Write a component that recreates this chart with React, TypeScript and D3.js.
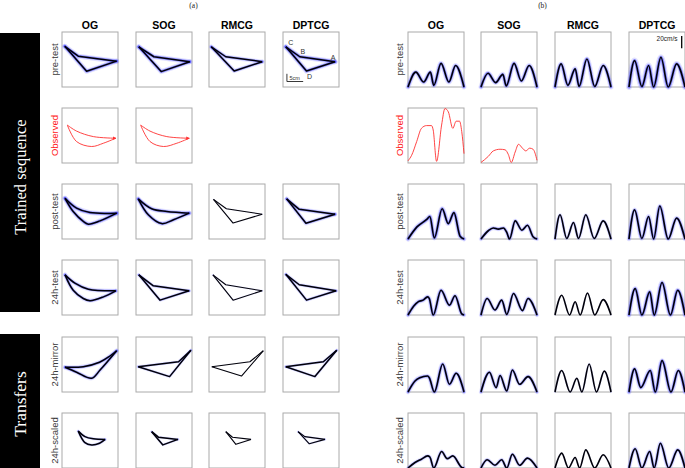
import React from "react";
import * as d3 from "d3";

type P = [number, number];
interface Traj { curved: boolean; upper: P[]; lower: P[] }

const groups = ["OG", "SOG", "RMCG", "DPTCG"];
const rowLabels = ["pre-test", "Observed", "post-test", "24h-test", "24h-mirror", "24h-scaled"];
const panelLabels = ["(a)", "(b)"];
const blockLabels = ["Trained sequence", "Transfers"];
const cornerLabels = ["A", "B", "C", "D"];
const scaleLabelA = "5cm";
const scaleLabelB = "20cm/s";
const velScaleCmS = 20;
const velMaxCmS = 90;

// ---- panel (a): hand trajectories (normalised box coords, y up) ----
const trajPre: Traj[] = [
  { curved: false, upper: [[0.05, 0.74], [0.29, 0.56], [0.975, 0.47]], lower: [[0.05, 0.74], [0.44, 0.285], [0.975, 0.47]] },
  { curved: false, upper: [[0.05, 0.73], [0.32, 0.55], [0.96, 0.46]], lower: [[0.05, 0.73], [0.45, 0.28], [0.96, 0.46]] },
  { curved: false, upper: [[0.04, 0.73], [0.30, 0.55], [0.95, 0.46]], lower: [[0.04, 0.73], [0.45, 0.29], [0.95, 0.46]] },
  { curved: false, upper: [[0.05, 0.73], [0.30, 0.55], [0.93, 0.46]], lower: [[0.05, 0.73], [0.42, 0.29], [0.93, 0.46]] },
];
const trajObserved: Traj[] = [
  { curved: true, upper: [[0.095, 0.69], [0.26, 0.58], [0.56, 0.48], [0.96, 0.45]], lower: [[0.095, 0.69], [0.26, 0.39], [0.53, 0.30], [0.74, 0.36], [0.96, 0.45]] },
  { curved: true, upper: [[0.083, 0.69], [0.25, 0.58], [0.55, 0.48], [0.95, 0.45]], lower: [[0.083, 0.69], [0.25, 0.39], [0.49, 0.30], [0.73, 0.36], [0.95, 0.45]] },
];
const trajPost: Traj[] = [
  { curved: true, upper: [[0.054, 0.74], [0.26, 0.56], [0.5, 0.48], [0.976, 0.47]], lower: [[0.054, 0.74], [0.2, 0.5], [0.38, 0.32], [0.47, 0.27], [0.68, 0.33], [0.976, 0.47]] },
  { curved: true, upper: [[0.04, 0.73], [0.28, 0.55], [0.55, 0.5], [0.95, 0.47]], lower: [[0.04, 0.73], [0.22, 0.44], [0.46, 0.28], [0.67, 0.35], [0.95, 0.47]] },
  { curved: false, upper: [[0.08, 0.72], [0.31, 0.55], [0.95, 0.45]], lower: [[0.08, 0.72], [0.43, 0.29], [0.95, 0.45]] },
  { curved: false, upper: [[0.065, 0.73], [0.29, 0.54], [0.93, 0.45]], lower: [[0.065, 0.73], [0.41, 0.285], [0.93, 0.45]] },
];
const traj24h: Traj[] = [
  { curved: true, upper: [[0.054, 0.73], [0.23, 0.58], [0.47, 0.47], [0.96, 0.44]], lower: [[0.054, 0.73], [0.2, 0.45], [0.38, 0.30], [0.5, 0.26], [0.74, 0.33], [0.96, 0.44]] },
  { curved: false, upper: [[0.05, 0.73], [0.31, 0.53], [0.95, 0.44]], lower: [[0.05, 0.73], [0.43, 0.27], [0.95, 0.44]] },
  { curved: false, upper: [[0.07, 0.73], [0.30, 0.55], [0.95, 0.44]], lower: [[0.07, 0.73], [0.43, 0.27], [0.95, 0.44]] },
  { curved: false, upper: [[0.05, 0.74], [0.29, 0.55], [0.95, 0.44]], lower: [[0.05, 0.74], [0.42, 0.27], [0.95, 0.44]] },
];
const trajMirror: Traj[] = [
  { curved: true, upper: [[0.054, 0.45], [0.38, 0.46], [0.67, 0.54], [0.85, 0.65], [0.976, 0.75]], lower: [[0.054, 0.45], [0.26, 0.36], [0.53, 0.25], [0.68, 0.40], [0.976, 0.75]] },
  { curved: false, upper: [[0.04, 0.46], [0.76, 0.55], [0.98, 0.76]], lower: [[0.04, 0.46], [0.6, 0.28], [0.98, 0.76]] },
  { curved: false, upper: [[0.05, 0.46], [0.73, 0.55], [0.97, 0.75]], lower: [[0.05, 0.46], [0.58, 0.29], [0.97, 0.75]] },
  { curved: false, upper: [[0.05, 0.46], [0.72, 0.55], [0.96, 0.76]], lower: [[0.05, 0.46], [0.57, 0.28], [0.96, 0.76]] },
];
const trajScaled: Traj[] = [
  { curved: true, upper: [[0.29, 0.67], [0.41, 0.57], [0.56, 0.53], [0.77, 0.52]], lower: [[0.29, 0.67], [0.41, 0.46], [0.53, 0.42], [0.67, 0.45], [0.77, 0.52]] },
  { curved: false, upper: [[0.28, 0.66], [0.40, 0.56], [0.75, 0.52]], lower: [[0.28, 0.66], [0.48, 0.42], [0.75, 0.52]] },
  { curved: false, upper: [[0.30, 0.66], [0.42, 0.56], [0.75, 0.52]], lower: [[0.30, 0.66], [0.48, 0.43], [0.75, 0.52]] },
  { curved: false, upper: [[0.27, 0.66], [0.39, 0.57], [0.75, 0.52]], lower: [[0.27, 0.66], [0.47, 0.44], [0.75, 0.52]] },
];
const trajRows: Traj[][] = [trajPre, trajObserved, trajPost, traj24h, trajMirror, trajScaled];

// ---- panel (b): velocity profiles (t normalised, v as fraction of box height) ----
const velPre: P[][] = [
  [[0, 0], [0.14, 0.27], [0.28, 0.09], [0.40, 0.27], [0.46, 0.03], [0.59, 0.43], [0.73, 0.09], [0.85, 0.39], [1, 0]],
  [[0, 0], [0.125, 0.25], [0.26, 0.08], [0.39, 0.23], [0.45, 0.02], [0.59, 0.43], [0.72, 0.11], [0.86, 0.39], [1, 0]],
  [[0, 0], [0.11, 0.42], [0.23, 0.03], [0.36, 0.33], [0.43, 0.01], [0.57, 0.51], [0.71, 0.01], [0.86, 0.39], [1, 0]],
  [[0, 0], [0.10, 0.48], [0.23, 0.01], [0.35, 0.39], [0.44, 0], [0.57, 0.54], [0.70, 0], [0.85, 0.42], [1, 0]],
];
const velObserved: P[][] = [
  [[0, 0.04], [0.065, 0.14], [0.155, 0.39], [0.24, 0.63], [0.33, 0.68], [0.42, 0.68], [0.45, 0.6], [0.51, 0.03], [0.6, 0.69], [0.66, 0.99], [0.72, 0.93], [0.8, 0.63], [0.86, 0.76], [0.92, 0.76], [0.96, 0.57], [1, 0.17]],
  [[0, 0.01], [0.13, 0.12], [0.22, 0.22], [0.34, 0.25], [0.43, 0.24], [0.49, 0.15], [0.54, 0.01], [0.61, 0.2], [0.67, 0.34], [0.74, 0.27], [0.80, 0.22], [0.87, 0.27], [0.93, 0.25], [1, 0.05]],
];
const velPost: P[][] = [
  [[0, 0], [0.16, 0.22], [0.34, 0.36], [0.39, 0.41], [0.47, 0.02], [0.61, 0.55], [0.72, 0.28], [0.82, 0.48], [0.93, 0.05], [1, 0]],
  [[0, 0], [0.13, 0.15], [0.22, 0.2], [0.31, 0.18], [0.4, 0.2], [0.46, 0.12], [0.51, 0], [0.61, 0.33], [0.73, 0.16], [0.83, 0.25], [0.93, 0.04], [1, 0]],
  [[0, 0], [0.09, 0.44], [0.21, 0.01], [0.33, 0.3], [0.42, 0.01], [0.55, 0.44], [0.70, 0.01], [0.86, 0.33], [1, 0]],
  [[0, 0], [0.10, 0.53], [0.23, 0.01], [0.35, 0.41], [0.44, 0], [0.55, 0.6], [0.70, 0], [0.85, 0.38], [1, 0]],
];
const vel24h: P[][] = [
  [[0, 0], [0.10, 0.16], [0.18, 0.24], [0.27, 0.27], [0.35, 0.33], [0.38, 0.3], [0.45, 0], [0.59, 0.45], [0.74, 0.18], [0.84, 0.35], [0.96, 0.02], [1, 0]],
  [[0, 0], [0.11, 0.3], [0.25, 0.09], [0.37, 0.27], [0.46, 0.01], [0.58, 0.39], [0.74, 0.08], [0.84, 0.3], [1, 0]],
  [[0, 0], [0.12, 0.36], [0.26, 0], [0.36, 0.24], [0.45, 0], [0.58, 0.4], [0.71, 0], [0.86, 0.28], [1, 0]],
  [[0, 0], [0.11, 0.48], [0.23, 0], [0.37, 0.42], [0.45, 0], [0.59, 0.59], [0.74, 0], [0.87, 0.45], [1, 0]],
];
const velMirror: P[][] = [
  [[0, 0], [0.125, 0.2], [0.21, 0.26], [0.35, 0.29], [0.38, 0.26], [0.47, 0], [0.62, 0.51], [0.74, 0.14], [0.86, 0.34], [1, 0]],
  [[0, 0], [0.15, 0.36], [0.27, 0.08], [0.34, 0.3], [0.46, 0.02], [0.56, 0.4], [0.69, 0.14], [0.84, 0.28], [1, 0]],
  [[0, 0], [0.12, 0.39], [0.27, 0], [0.39, 0.25], [0.48, 0], [0.61, 0.51], [0.74, 0], [0.88, 0.38], [1, 0]],
  [[0, 0], [0.10, 0.42], [0.21, 0.08], [0.38, 0.39], [0.47, 0], [0.59, 0.57], [0.75, 0], [0.88, 0.39], [1, 0]],
];
const velScaled: P[][] = [
  [[0, 0], [0.125, 0.1], [0.24, 0.16], [0.35, 0.22], [0.39, 0.2], [0.46, 0], [0.6, 0.3], [0.70, 0.17], [0.8, 0.22], [0.96, 0.01], [1, 0]],
  [[0, 0], [0.11, 0.15], [0.25, 0.05], [0.37, 0.15], [0.46, 0], [0.56, 0.25], [0.69, 0.05], [0.83, 0.18], [1, 0]],
  [[0, 0], [0.12, 0.27], [0.24, 0], [0.36, 0.19], [0.44, 0], [0.55, 0.33], [0.71, 0], [0.86, 0.24], [1, 0]],
  [[0, 0], [0.11, 0.35], [0.23, 0], [0.37, 0.3], [0.45, 0], [0.56, 0.45], [0.71, 0], [0.87, 0.33], [1, 0]],
];
const velRows: P[][][] = [velPre, velObserved, velPost, vel24h, velMirror, velScaled];

// trial-to-trial spread (visual strength of the blue trial bundle)
const spreadA = [[1, 1, 0.8, 1], [], [1, 0.9, 0.1, 0.8], [0.8, 0.6, 0.2, 0.6], [0.8, 0.5, 0.05, 0.5], [0.5, 0.4, 0.1, 0.3]];
const spreadB = [[1, 1, 1, 1.3], [], [1, 0.8, 0.6, 0.9], [0.9, 0.8, 0.2, 1], [0.9, 0.8, 0.3, 1], [0.7, 0.7, 0.2, 0.8]];

// ---- layout ----
const colA = [62, 136, 209, 283];
const colB = [408, 481, 555, 629];
const rowY = [32, 108, 184, 260, 337, 413];
const W = 56;
const H = 55;
const SANS = "'Liberation Sans', Arial, Helvetica, sans-serif";
const SERIF = "'Liberation Serif', 'Times New Roman', serif";

function Halo({ d, s }: { d: string; s: number }) {
  if (s <= 0) return null;
  const k = Math.min(1, s);
  return (
    <g fill="none" strokeLinejoin="round" strokeLinecap="round">
      <path d={d} stroke="#6a6aff" strokeOpacity={0.2 * k} strokeWidth={1.5 + 3.5 * s} />
      <path d={d} stroke="#2828ff" strokeOpacity={0.45 * k} strokeWidth={1.2 + 1.6 * s} />
    </g>
  );
}

function TrajCell({ t, left, top, s, red }: { t: Traj; left: number; top: number; s: number; red: boolean }) {
  const x = d3.scaleLinear().domain([0, 1]).range([left, left + W]);
  const y = d3.scaleLinear().domain([0, 1]).range([top + H, top]);
  const line = d3.line<P>().x(d => x(d[0])).y(d => y(d[1])).curve(t.curved ? d3.curveCatmullRom.alpha(0.5) : d3.curveLinear);
  const du = line(t.upper) || "";
  const dl = line(t.lower) || "";
  const sw = s > 0.3 ? 1.5 : 1.1;
  return (
    <g>
      <rect x={left} y={top} width={W} height={H} fill="none" stroke="#aaaaaa" strokeWidth={1} />
      {red ? (
        <g fill="none" stroke="#ff3030" strokeWidth={0.9}>
          <path d={du} markerEnd="url(#arrowRed)" />
          <path d={dl} />
        </g>
      ) : (
        <g>
          <Halo d={du} s={s} />
          <Halo d={dl} s={s} />
          <path d={du} fill="none" stroke="#000008" strokeWidth={sw} strokeLinejoin="round" />
          <path d={dl} fill="none" stroke="#000008" strokeWidth={sw} strokeLinejoin="round" />
        </g>
      )}
    </g>
  );
}

function VelCell({ v, left, top, s, red }: { v: P[]; left: number; top: number; s: number; red: boolean }) {
  const x = d3.scaleLinear().domain([0, 1]).range([left, left + W]);
  const y = d3.scaleLinear().domain([0, 1]).range([top + H, top]);
  const line = d3.line<P>().x(d => x(d[0])).y(d => y(d[1])).curve(d3.curveMonotoneX);
  const d = line(v) || "";
  return (
    <g>
      <rect x={left} y={top} width={W} height={H} fill="none" stroke="#aaaaaa" strokeWidth={1} />
      {red ? (
        <path d={d} fill="none" stroke="#ff3030" strokeWidth={0.9} />
      ) : (
        <g>
          <Halo d={d} s={s} />
          <path d={d} fill="none" stroke="#000008" strokeWidth={1.6} strokeLinejoin="round" />
        </g>
      )}
    </g>
  );
}

export default function App() {
  // letters / scale bar in DPTCG pre-test
  const dp = trajPre[3];
  const xa = d3.scaleLinear().domain([0, 1]).range([colA[3], colA[3] + W]);
  const ya = d3.scaleLinear().domain([0, 1]).range([rowY[0] + H, rowY[0]]);
  const ptA = dp.upper[2], ptB = dp.upper[1], ptC = dp.upper[0], ptD = dp.lower[1];
  const letterPos: [number, number][] = [
    [xa(ptA[0]) - 2, ya(ptA[1]) - 4],
    [xa(ptB[0]) + 3, ya(ptB[1]) - 5],
    [xa(ptC[0]) + 5, ya(ptC[1]) - 4],
    [xa(ptD[0]) + 3, ya(ptD[1]) + 5],
  ];
  const yb = d3.scaleLinear().domain([0, velMaxCmS]).range([0, H]);
  const barLenB = yb(velScaleCmS);

  return (
    <svg width={685} height={468} style={{ position: "absolute", left: 0, top: 0, background: "#fff" }}>
      <defs>
        <marker id="arrowRed" viewBox="0 0 6 6" refX="5" refY="3" markerWidth="4" markerHeight="4" orient="auto">
          <path d="M0,0 L6,3 L0,6 z" fill="#ff3030" />
        </marker>
      </defs>
      <rect x={0} y={0} width={685} height={468} fill="#fff" />
      {/* panel labels */}
      <text x={193.5} y={7.5} fontFamily={SERIF} fontSize={7.5} textAnchor="middle" fill="#222">{panelLabels[0]}</text>
      <text x={542.5} y={7.5} fontFamily={SERIF} fontSize={7.5} textAnchor="middle" fill="#222">{panelLabels[1]}</text>

      {/* side blocks */}
      <rect x={0} y={33} width={40} height={279} fill="#000" />
      <rect x={0} y={334} width={40} height={134} fill="#000" />
      <text transform="translate(26,177) rotate(-90)" fontFamily={SERIF} fontSize={16.5} fill="#fff" textAnchor="middle">{blockLabels[0]}</text>
      <text transform="translate(26,404) rotate(-90)" fontFamily={SERIF} fontSize={17.5} fill="#fff" textAnchor="middle">{blockLabels[1]}</text>

      {/* column titles */}
      {groups.map((g, i) => (
        <g key={g}>
          <text x={colA[i] + W / 2} y={28.5} fontFamily={SANS} fontWeight="bold" fontSize={10.5} textAnchor="middle">{g}</text>
          <text x={colB[i] + W / 2} y={28.5} fontFamily={SANS} fontWeight="bold" fontSize={10.5} textAnchor="middle">{g}</text>
        </g>
      ))}

      {/* row labels */}
      {rowLabels.map((r, i) => {
        const cy = rowY[i] + H / 2;
        const col = r === "Observed" ? "#ff2020" : "#3a3a3a";
        return (
          <g key={r}>
            <text transform={`translate(58,${cy}) rotate(-90)`} fontFamily={SANS} fontSize={9.5} textAnchor="middle" fill={col}>{r}</text>
            <text transform={`translate(403,${cy}) rotate(-90)`} fontFamily={SANS} fontSize={9.5} textAnchor="middle" fill={col}>{r}</text>
          </g>
        );
      })}

      {/* panel (a) */}
      {trajRows.map((row, ri) =>
        row.map((t, ci) => (
          <TrajCell key={`a${ri}${ci}`} t={t} left={colA[ci]} top={rowY[ri]} s={spreadA[ri][ci] ?? 0} red={ri === 1} />
        ))
      )}
      {/* panel (b) */}
      {velRows.map((row, ri) =>
        row.map((v, ci) => (
          <VelCell key={`b${ri}${ci}`} v={v} left={colB[ci]} top={rowY[ri]} s={spreadB[ri][ci] ?? 0} red={ri === 1} />
        ))
      )}

      {/* corner letters */}
      {cornerLabels.map((l, i) => (
        <text key={l} x={letterPos[i][0]} y={letterPos[i][1]} fontFamily={SANS} fontSize={7} fill="#333" textAnchor="middle" dominantBaseline="central">{l}</text>
      ))}
      {/* 5cm scale bar */}
      <path d={`M${xa(0.07)},${ya(0.24)} L${xa(0.07)},${ya(0.10)} L${xa(0.36)},${ya(0.10)}`} fill="none" stroke="#222" strokeWidth={0.9} />
      <text x={xa(0.21)} y={ya(0.12)} fontFamily={SANS} fontSize={5.5} fill="#333" textAnchor="middle">{scaleLabelA}</text>
      {/* 20cm/s bar */}
      <line x1={681.7} x2={681.7} y1={rowY[0] + 4} y2={rowY[0] + 4 + barLenB} stroke="#000" strokeWidth={1.3} />
      <text x={677.5} y={rowY[0] + 9} fontFamily={SANS} fontSize={6.5} fill="#222" textAnchor="end">{scaleLabelB}</text>
    </svg>
  );
}
